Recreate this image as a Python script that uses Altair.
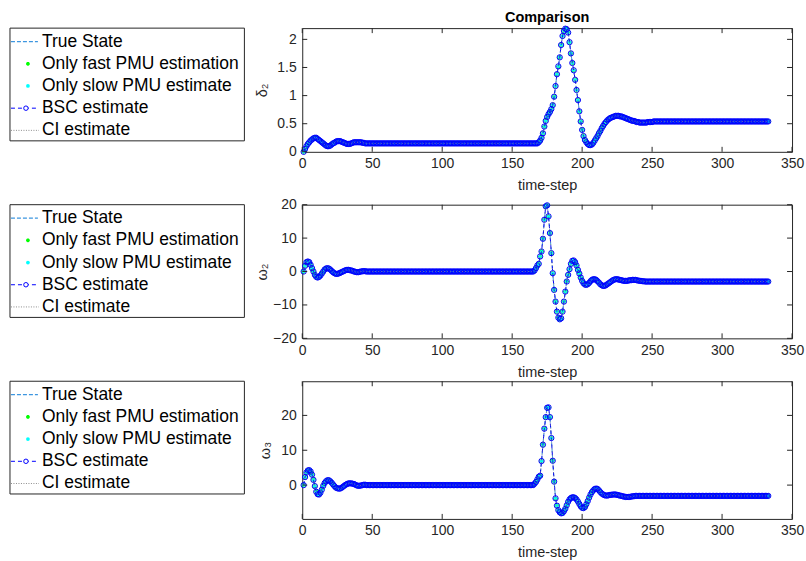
import altair as alt
import pandas as pd

# ---------------- data ----------------
x_ticks = [0, 50, 100, 150, 200, 250, 300, 350]
delta2_ticks = [0, 0.5, 1, 1.5, 2]
omega2_ticks = [-20, -10, 0, 10, 20]
omega3_ticks = [0, 10, 20]

legend_labels = ["True State", "Only fast PMU estimation", "Only slow PMU estimate",
                 "BSC estimate", "CI estimate"]
chart_title = ["Comparison"]

delta2 = [
    0.00, 0.05, 0.10, 0.14, 0.17, 0.20, 0.22, 0.24, 0.25, 0.25,
    0.23, 0.21, 0.19, 0.17, 0.15, 0.13, 0.11, 0.10, 0.10, 0.11,
    0.13, 0.15, 0.16, 0.18, 0.19, 0.19, 0.19, 0.18, 0.17, 0.16,
    0.15, 0.14, 0.14, 0.14, 0.15, 0.16, 0.17, 0.17, 0.17, 0.17,
    0.17, 0.17, 0.16, 0.16, 0.15,
    0.15, 0.15, 0.15, 0.15, 0.15, 0.15, 0.15, 0.15, 0.15, 0.15, 0.15, 0.15, 0.15, 0.15, 0.15, 0.15, 0.15, 0.15, 0.15, 0.15,
    0.15, 0.15, 0.15, 0.15, 0.15, 0.15, 0.15, 0.15, 0.15, 0.15, 0.15, 0.15, 0.15, 0.15, 0.15, 0.15, 0.15, 0.15, 0.15, 0.15,
    0.15, 0.15, 0.15, 0.15, 0.15, 0.15, 0.15, 0.15, 0.15, 0.15, 0.15, 0.15, 0.15, 0.15, 0.15, 0.15, 0.15, 0.15, 0.15, 0.15,
    0.15, 0.15, 0.15, 0.15, 0.15, 0.15, 0.15, 0.15, 0.15, 0.15, 0.15, 0.15, 0.15, 0.15, 0.15, 0.15, 0.15, 0.15, 0.15, 0.15,
    0.15, 0.15, 0.15, 0.15, 0.15, 0.15, 0.15, 0.15, 0.15, 0.15, 0.15, 0.15, 0.15, 0.15, 0.15, 0.15, 0.15, 0.15, 0.15, 0.15,
    0.15, 0.15, 0.15, 0.15, 0.15, 0.15, 0.15, 0.15, 0.15, 0.15, 0.15, 0.15, 0.15, 0.15, 0.15, 0.15, 0.15, 0.15, 0.15, 0.15,
    0.15, 0.15, 0.15,
    0.17, 0.20, 0.25, 0.33, 0.45, 0.55, 0.62, 0.67, 0.71, 0.76,
    0.83, 0.98, 1.17, 1.38, 1.52, 1.68, 1.90, 2.06, 2.15, 2.19,
    2.18, 2.12, 1.95, 1.75, 1.58, 1.45, 1.28, 1.10, 0.92, 0.72,
    0.54, 0.39, 0.28, 0.21, 0.17, 0.14, 0.12, 0.12, 0.13, 0.16,
    0.20, 0.24, 0.28, 0.33, 0.37, 0.42, 0.46, 0.50, 0.53, 0.56,
    0.58, 0.60, 0.61, 0.62, 0.63, 0.64, 0.64, 0.64, 0.63, 0.63,
    0.62, 0.61, 0.60, 0.59, 0.58, 0.57, 0.56, 0.55, 0.55, 0.54,
    0.53, 0.53, 0.52, 0.52, 0.52, 0.52, 0.52, 0.52, 0.53, 0.53,
    0.53, 0.53,
    0.54, 0.54, 0.54, 0.54, 0.54, 0.54, 0.54, 0.54, 0.54, 0.54, 0.54, 0.54, 0.54, 0.54, 0.54, 0.54, 0.54, 0.54, 0.54, 0.54,
    0.54, 0.54, 0.54, 0.54, 0.54, 0.54, 0.54, 0.54, 0.54, 0.54, 0.54, 0.54, 0.54, 0.54, 0.54, 0.54, 0.54, 0.54, 0.54, 0.54,
    0.54, 0.54, 0.54, 0.54, 0.54, 0.54, 0.54, 0.54, 0.54, 0.54, 0.54, 0.54, 0.54, 0.54, 0.54, 0.54, 0.54, 0.54, 0.54, 0.54,
    0.54, 0.54, 0.54, 0.54, 0.54, 0.54, 0.54, 0.54, 0.54, 0.54, 0.54, 0.54, 0.54, 0.54, 0.54, 0.54, 0.54, 0.54, 0.54, 0.54,
    0.54, 0.54, 0.54,
]

omega2 = [
    0.0, 1.7, 2.8, 3.0, 2.8, 2.0, 1.0, 0.0, -1.0, -1.6,
    -1.8, -1.6, -1.2, -0.6, 0.0, 0.6, 0.9, 1.0, 0.9, 0.6,
    0.2, -0.2, -0.5, -0.7, -0.7, -0.6, -0.4, -0.2, 0.0, 0.2,
    0.4, 0.5, 0.5, 0.4, 0.3, 0.2, 0.0, -0.1, -0.2, -0.2,
    -0.1, 0.0, 0.1, 0.1, 0.1,
    0.0, 0.0, 0.0, 0.0, 0.0, 0.0, 0.0, 0.0, 0.0, 0.0, 0.0, 0.0, 0.0, 0.0, 0.0, 0.0, 0.0, 0.0, 0.0, 0.0,
    0.0, 0.0, 0.0, 0.0, 0.0, 0.0, 0.0, 0.0, 0.0, 0.0, 0.0, 0.0, 0.0, 0.0, 0.0, 0.0, 0.0, 0.0, 0.0, 0.0,
    0.0, 0.0, 0.0, 0.0, 0.0, 0.0, 0.0, 0.0, 0.0, 0.0, 0.0, 0.0, 0.0, 0.0, 0.0, 0.0, 0.0, 0.0, 0.0, 0.0,
    0.0, 0.0, 0.0, 0.0, 0.0, 0.0, 0.0, 0.0, 0.0, 0.0, 0.0, 0.0, 0.0, 0.0, 0.0, 0.0, 0.0, 0.0, 0.0, 0.0,
    0.0, 0.0, 0.0, 0.0, 0.0, 0.0, 0.0, 0.0, 0.0, 0.0, 0.0, 0.0, 0.0, 0.0, 0.0, 0.0, 0.0, 0.0, 0.0, 0.0,
    0.0, 0.0, 0.0, 0.0, 0.0, 0.0, 0.0, 0.0, 0.0, 0.0, 0.0, 0.0, 0.0, 0.0, 0.0, 0.0, 0.0, 0.0, 0.0, 0.0,
    0.3, 1.0, 1.8, 2.3, 4.5, 6.0, 9.8, 15.5, 19.5, 19.8,
    16.5, 11.5, 5.5, -0.5, -5.5, -9.0, -12.0, -13.8, -14.3, -14.0,
    -12.0, -9.0, -6.0, -3.0, -1.0, 0.7, 2.3, 3.2, 3.3, 2.8,
    1.8, 0.5, -0.6, -1.8, -2.8, -3.5, -3.9, -4.0, -3.8, -3.4,
    -2.9, -2.5, -2.3, -2.3, -2.5, -2.9, -3.3, -3.8, -4.1, -4.3,
    -4.3, -4.1, -3.8, -3.5, -3.2, -2.9, -2.6, -2.4, -2.3, -2.3,
    -2.4, -2.5, -2.6, -2.7, -2.8, -2.8, -2.8, -2.7, -2.6, -2.6,
    -2.5, -2.5, -2.5, -2.6, -2.7, -2.8, -2.8, -2.9, -2.9, -3.0,
    -3.0, -3.0, -3.0, -3.0, -3.0, -3.0, -3.0, -3.0, -3.0, -3.0, -3.0, -3.0, -3.0, -3.0, -3.0, -3.0, -3.0, -3.0, -3.0, -3.0,
    -3.0, -3.0, -3.0, -3.0, -3.0, -3.0, -3.0, -3.0, -3.0, -3.0, -3.0, -3.0, -3.0, -3.0, -3.0, -3.0, -3.0, -3.0, -3.0, -3.0,
    -3.0, -3.0, -3.0, -3.0, -3.0, -3.0, -3.0, -3.0, -3.0, -3.0, -3.0, -3.0, -3.0, -3.0, -3.0, -3.0, -3.0, -3.0, -3.0, -3.0,
    -3.0, -3.0, -3.0, -3.0, -3.0, -3.0, -3.0, -3.0, -3.0, -3.0, -3.0, -3.0, -3.0, -3.0, -3.0, -3.0, -3.0, -3.0, -3.0, -3.0,
    -3.0, -3.0, -3.0, -3.0, -3.0, -3.0, -3.0, -3.0,
]

omega3 = [
    0.0, 2.3, 3.6, 4.2, 4.3, 3.9, 3.0, 1.5, -0.3, -1.9,
    -2.6, -2.7, -2.2, -1.3, -0.2, 0.6, 1.1, 1.4, 1.4, 1.1,
    0.7, 0.2, -0.3, -0.7, -0.9, -1.0, -1.0, -0.8, -0.5, -0.2,
    0.1, 0.3, 0.5, 0.5, 0.5, 0.4, 0.3, 0.1, -0.1, -0.2,
    -0.2, -0.1, 0.0, 0.1, 0.1,
    0.0, 0.0, 0.0, 0.0, 0.0, 0.0, 0.0, 0.0, 0.0, 0.0, 0.0, 0.0, 0.0, 0.0, 0.0, 0.0, 0.0, 0.0, 0.0, 0.0,
    0.0, 0.0, 0.0, 0.0, 0.0, 0.0, 0.0, 0.0, 0.0, 0.0, 0.0, 0.0, 0.0, 0.0, 0.0, 0.0, 0.0, 0.0, 0.0, 0.0,
    0.0, 0.0, 0.0, 0.0, 0.0, 0.0, 0.0, 0.0, 0.0, 0.0, 0.0, 0.0, 0.0, 0.0, 0.0, 0.0, 0.0, 0.0, 0.0, 0.0,
    0.0, 0.0, 0.0, 0.0, 0.0, 0.0, 0.0, 0.0, 0.0, 0.0, 0.0, 0.0, 0.0, 0.0, 0.0, 0.0, 0.0, 0.0, 0.0, 0.0,
    0.0, 0.0, 0.0, 0.0, 0.0, 0.0, 0.0, 0.0, 0.0, 0.0, 0.0, 0.0, 0.0, 0.0, 0.0, 0.0, 0.0, 0.0, 0.0, 0.0,
    0.0, 0.0, 0.0, 0.0, 0.0, 0.0, 0.0, 0.0, 0.0, 0.0, 0.0, 0.0, 0.0, 0.0, 0.0, 0.0, 0.0, 0.0, 0.0, 0.0,
    0.4, 0.9, 1.6, 2.4, 2.7, 6.9, 11.6, 16.2, 19.5, 22.2,
    22.3, 19.5, 13.5, 7.0, 1.0, -3.8, -5.9, -7.2, -7.8, -8.1,
    -8.0, -7.5, -6.8, -5.8, -4.8, -4.1, -3.7, -3.5, -3.5, -3.7,
    -4.1, -4.7, -5.4, -6.1, -6.5, -6.6, -6.3, -5.5, -4.6, -3.6,
    -2.7, -2.0, -1.5, -1.1, -1.0, -1.1, -1.5, -2.0, -2.4, -2.7,
    -2.9, -3.0, -3.0, -2.9, -2.8, -2.8, -2.7, -2.7, -2.7, -2.8,
    -2.9, -3.0, -3.1, -3.2, -3.3, -3.4, -3.4, -3.4, -3.4, -3.3,
    -3.2, -3.2, -3.1, -3.1, -3.1,
    -3.1, -3.1, -3.1, -3.1, -3.1, -3.1, -3.1, -3.1, -3.1, -3.1, -3.1, -3.1, -3.1, -3.1, -3.1, -3.1, -3.1, -3.1, -3.1, -3.1,
    -3.1, -3.1, -3.1, -3.1, -3.1, -3.1, -3.1, -3.1, -3.1, -3.1, -3.1, -3.1, -3.1, -3.1, -3.1, -3.1, -3.1, -3.1, -3.1, -3.1,
    -3.1, -3.1, -3.1, -3.1, -3.1, -3.1, -3.1, -3.1, -3.1, -3.1, -3.1, -3.1, -3.1, -3.1, -3.1, -3.1, -3.1, -3.1, -3.1, -3.1,
    -3.1, -3.1, -3.1, -3.1, -3.1, -3.1, -3.1, -3.1, -3.1, -3.1, -3.1, -3.1, -3.1, -3.1, -3.1, -3.1, -3.1, -3.1, -3.1, -3.1,
    -3.1, -3.1, -3.1, -3.1, -3.1, -3.1, -3.1, -3.1, -3.1, -3.1, -3.1, -3.1, -3.1,
]

# ---------------- styles ----------------
AX = "#262626"
FONT = "Liberation Sans"
BLUE = "#0000FF"
GREEN = "#00FF00"
CYAN = "#00FFFF"
TRUE_C = "#3D96E0"
CI_C = "#8C8C8C"
ASTERISK = "M-1,0L1,0M0,-1L0,1M-0.7,-0.7L0.7,0.7M-0.7,0.7L0.7,-0.7"
LEG_W, LEG_H = 235, 113
LEG_LEFT = -293


def legend_layer(left):
    ldf = pd.DataFrame({"label": legend_labels})
    LY = alt.Y("label:N", sort=legend_labels, axis=None,
               scale=alt.Scale(type="point", range=[13.5, 102.5], padding=0))
    base = alt.Chart(ldf)
    box = alt.Chart(pd.DataFrame({"box": [0]})).mark_rect(
        fill="white", stroke=AX, strokeWidth=1).encode(
        x=alt.value(left), x2=alt.value(left + LEG_W), y=alt.value(0), y2=alt.value(LEG_H))
    text = base.mark_text(align="left", baseline="middle", font=FONT, fontSize=17.5,
                          color="black").encode(x=alt.value(left + 32), y=LY, text="label:N")

    def only(name):
        return base.transform_filter(alt.datum.label == name)

    s_true = only(legend_labels[0]).mark_rule(color=TRUE_C, strokeDash=[4, 2], strokeWidth=1.2).encode(
        x=alt.value(left + 1), x2=alt.value(left + 28), y=LY)
    s_fast = only(legend_labels[1]).mark_point(shape=ASTERISK, filled=False, color=GREEN, size=14,
                                               strokeWidth=1.2, opacity=1).encode(x=alt.value(left + 18), y=LY)
    s_slow = only(legend_labels[2]).mark_point(shape="circle", filled=True, color=CYAN, size=14,
                                               opacity=1).encode(x=alt.value(left + 18), y=LY)
    s_bsc_l = only(legend_labels[3]).mark_rule(color=BLUE, strokeDash=[4, 3], strokeWidth=1).encode(
        x=alt.value(left + 1), x2=alt.value(left + 28), y=LY)
    s_bsc_p = only(legend_labels[3]).mark_point(shape="circle", filled=True, fill="white", stroke=BLUE,
                                                size=20, strokeWidth=1, opacity=1).encode(
        x=alt.value(left + 16), y=LY)
    s_ci = only(legend_labels[4]).mark_rule(color=CI_C, strokeDash=[1, 1.5], strokeWidth=1).encode(
        x=alt.value(left + 1), x2=alt.value(left + 29), y=LY)
    return alt.layer(box, s_true, s_fast, s_slow, s_bsc_l, s_bsc_p, s_ci, text)


def panel(values, ytitle, ydomain, yticks, W, H, titleX, xtitle_pad, with_title=False):
    df = pd.DataFrame({"time-step": list(range(1, len(values) + 1)), "value": values})
    xs = alt.Scale(domain=[0, 350], nice=False, padding=0)
    ys = alt.Scale(domain=ydomain, nice=False, zero=False, padding=0)
    X = alt.X("time-step:Q", scale=xs, title="time-step",
              axis=alt.Axis(values=x_ticks, ticks=False, domain=False, grid=False,
                            labelFlush=False, labelPadding=5, titlePadding=xtitle_pad))
    Y = alt.Y("value:Q", scale=ys, title=ytitle,
              axis=alt.Axis(values=yticks, ticks=False, domain=False, grid=False, format=".4~g",
                            labelFlush=False, labelPadding=6, titleX=titleX,
                            titleBaseline="middle", titleAngle=270))
    base = alt.Chart(df)
    true_line = base.mark_line(color=TRUE_C, strokeDash=[4, 2], strokeWidth=1).encode(x=X, y=Y)
    fast = base.mark_point(shape=ASTERISK, filled=False, color=GREEN, size=22,
                           strokeWidth=1, opacity=1).encode(x=X, y=Y)
    slow = base.mark_point(shape="circle", filled=True, color=CYAN, size=10,
                           opacity=1).encode(x=X, y=Y)
    bsc_line = base.mark_line(color=BLUE, strokeDash=[4, 3], strokeWidth=1).encode(x=X, y=Y)
    bsc_pts = base.mark_point(shape="circle", filled=False, color=BLUE, size=28,
                              strokeWidth=1, opacity=1).encode(x=X, y=Y)
    ci = base.mark_line(color=CI_C, strokeDash=[1, 2], strokeWidth=0.8).encode(x=X, y=Y)

    # inward ticks on all four sides (MATLAB box style)
    xt = alt.Chart(pd.DataFrame({"time-step": x_ticks})).mark_rule(color=AX, strokeWidth=1)
    yt = alt.Chart(pd.DataFrame({"value": yticks})).mark_rule(color=AX, strokeWidth=1)
    t_bot = xt.encode(x=X, y=alt.value(H), y2=alt.value(H - 5))
    t_top = xt.encode(x=X, y=alt.value(0), y2=alt.value(5))
    t_left = yt.encode(y=Y, x=alt.value(0), x2=alt.value(5))
    t_right = yt.encode(y=Y, x=alt.value(W - 5), x2=alt.value(W))

    layers = [true_line, fast, slow, bsc_line, bsc_pts, ci, t_bot, t_top, t_left, t_right]
    if with_title:
        layers.append(
            alt.Chart(pd.DataFrame({"title": chart_title})).mark_text(
                font=FONT, fontSize=14.5, fontWeight="bold", color="black",
                align="center", baseline="alphabetic").encode(
                x=alt.value(W / 2), y=alt.value(-6), text="title:N"))
    main = alt.layer(*layers)
    return alt.layer(main, legend_layer(LEG_LEFT)).resolve_scale(y="independent").properties(
        width=W, height=H)


p1 = panel(delta2, "δ₂", [0, 2.2], delta2_ticks, 491, 124, -40, 8, with_title=True)
p2 = panel(omega2, "ω₂", [-20, 20], omega2_ticks, 491, 134, -40, 8)
p3 = panel(omega3, "ω₃", [-9.7, 29.8], omega3_ticks, 491, 138, -37, 8)

chart = alt.vconcat(
    p1,
    alt.vconcat(p2, p3, spacing=1),
    spacing=4,
).properties(
    padding={"left": 9, "top": 8.5, "right": 1, "bottom": 0},
    background="white",
).configure_view(
    stroke=AX, strokeWidth=1, fill="white"
).configure_axis(
    labelFont=FONT, labelFontSize=14, labelColor=AX,
    titleFont=FONT, titleFontSize=14.5, titleColor=AX, titleFontWeight="normal",
)

chart.save("out.html", embed_options={"renderer": "svg", "actions": False})
